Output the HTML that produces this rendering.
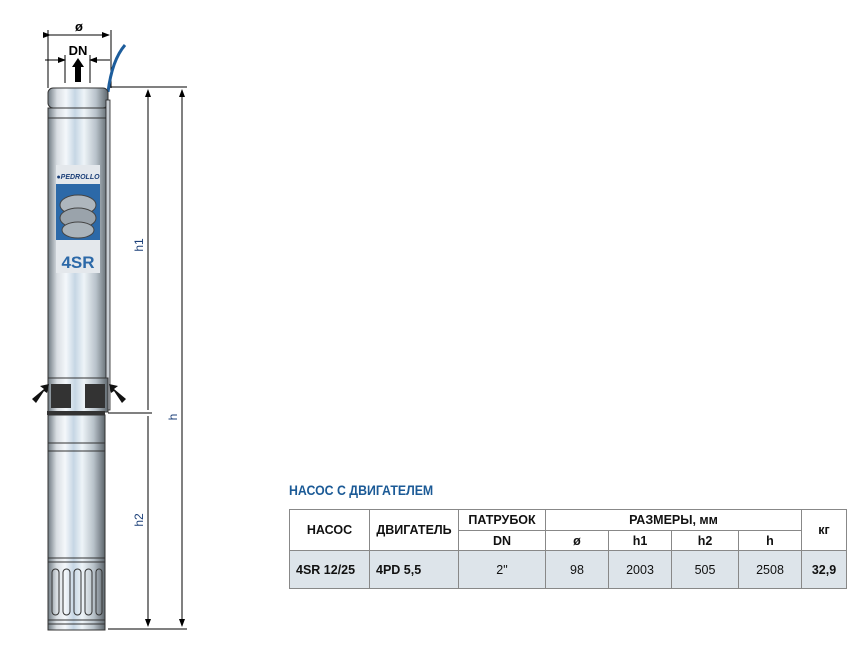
<!DOCTYPE html>
<html><head><meta charset="utf-8"><style>
body{margin:0;background:#fff;width:858px;height:650px;position:relative;overflow:hidden;font-family:"Liberation Sans",sans-serif}
.t{position:absolute;left:289px;top:482px;color:#1b5a96;font-weight:bold;font-size:14px;transform:scaleX(.88);transform-origin:left}
table{position:absolute;left:289px;top:509px;border-collapse:collapse;font-family:"Liberation Sans",sans-serif;font-size:12.5px;font-weight:bold;color:#111}
td{border:1px solid #888;text-align:center;padding:0;white-space:nowrap}
.d td{background:#dde4ea;font-weight:normal}
.d td.b{font-weight:bold}
</style></head><body>
<svg width="858" height="650" style="position:absolute;left:0;top:0" font-family="Liberation Sans">
<defs>
<linearGradient id="m" x1="0" x2="1">
<stop offset="0" stop-color="#6f7a82"/><stop offset=".15" stop-color="#d8dde2"/><stop offset=".3" stop-color="#f4f8fb"/><stop offset=".45" stop-color="#c6d6e4"/><stop offset=".6" stop-color="#eef4f8"/><stop offset=".8" stop-color="#b8c2ca"/><stop offset="1" stop-color="#5d666c"/>
</linearGradient>
<marker id="a" markerWidth="8" markerHeight="8" refX="7" refY="4" orient="auto"><path d="M0,1 L8,4 L0,7 z" fill="#000"/></marker>
</defs>
<g stroke="#000" stroke-width="1" fill="none">
<line x1="48" y1="30" x2="48" y2="88"/><line x1="111" y1="30" x2="111" y2="88"/>
<line x1="50" y1="35" x2="109" y2="35" marker-end="url(#a)" marker-start="url(#a)"/>
<line x1="45" y1="60" x2="65" y2="60" marker-end="url(#a)"/><line x1="110" y1="60" x2="90" y2="60" marker-end="url(#a)"/>
<line x1="65" y1="55" x2="65" y2="83"/><line x1="90" y1="55" x2="90" y2="83"/>
<line x1="108" y1="87" x2="187" y2="87"/>
<line x1="108" y1="413" x2="152" y2="413"/>
<line x1="108" y1="629" x2="187" y2="629"/>
<line x1="148" y1="410" x2="148" y2="90" marker-end="url(#a)"/>
<line x1="148" y1="416" x2="148" y2="626" marker-end="url(#a)"/>
<line x1="182" y1="626" x2="182" y2="90" marker-end="url(#a)"/>
<line x1="182" y1="90" x2="182" y2="626" marker-end="url(#a)"/>
</g>
<text x="79" y="31" font-size="13" font-weight="bold" text-anchor="middle">ø</text>
<text x="78" y="55" font-size="13" font-weight="bold" text-anchor="middle">DN</text>
<path d="M78,58 L72,67 L75,67 L75,82 L81,82 L81,67 L84,67 z" fill="#000"/>
<g font-size="12" fill="#1b3f78">
<text transform="translate(143,245) rotate(-90)" text-anchor="middle">h1</text>
<text transform="translate(143,520) rotate(-90)" text-anchor="middle">h2</text>
<text transform="translate(177,417) rotate(-90)" text-anchor="middle">h</text>
</g>
<path d="M125,45 Q112,60 108,92" stroke="#1d5d9c" stroke-width="3" fill="none"/>
<rect x="48" y="88" width="60" height="20" rx="5" fill="url(#m)" stroke="#333"/>
<rect x="48" y="108" width="60" height="10" fill="url(#m)" stroke="#333"/>
<rect x="48" y="118" width="60" height="262" fill="url(#m)" stroke="#333"/>
<rect x="106" y="100" width="4" height="310" fill="#c8ced4" stroke="#222" stroke-width=".8"/>
<rect x="56" y="165" width="44" height="108" fill="#e4e8ec"/>
<text x="78" y="179" font-size="7" font-style="italic" font-weight="bold" fill="#1b3f78" text-anchor="middle">●PEDROLLO</text>
<rect x="56" y="184" width="44" height="56" fill="#2c69a8"/>
<ellipse cx="78" cy="205" rx="18" ry="10" fill="#aeb6bd" stroke="#444"/>
<ellipse cx="78" cy="218" rx="18" ry="10" fill="#9aa3ab" stroke="#444"/>
<ellipse cx="78" cy="230" rx="16" ry="8" fill="#aab3ba" stroke="#444"/>
<text x="78" y="268" font-size="17" font-weight="bold" fill="#2c69a8" text-anchor="middle">4SR</text>
<rect x="48" y="378" width="60" height="34" fill="url(#m)" stroke="#333"/>
<rect x="51" y="384" width="20" height="24" fill="#333"/>
<rect x="85" y="384" width="20" height="24" fill="#333"/>
<path d="M32,399 L44,389 L40,386 L49,384 L47,393 L44,391 L36,403 z" fill="#111"/>
<path d="M126,399 L114,389 L118,386 L109,384 L111,393 L114,391 L122,403 z" fill="#111"/>
<rect x="47" y="411" width="58" height="4" fill="#333"/>
<rect x="48" y="415" width="57" height="215" fill="url(#m)" stroke="#333"/>
<line x1="48" y1="443" x2="105" y2="443" stroke="#333"/><line x1="48" y1="451" x2="105" y2="451" stroke="#333"/>
<line x1="48" y1="558" x2="105" y2="558" stroke="#333"/><line x1="48" y1="562" x2="105" y2="562" stroke="#333"/>
<g fill="none" stroke="#333">
<rect x="52" y="569" width="7" height="46" rx="3.5"/><rect x="63" y="569" width="7" height="46" rx="3.5"/><rect x="74" y="569" width="7" height="46" rx="3.5"/><rect x="85" y="569" width="7" height="46" rx="3.5"/><rect x="96" y="569" width="6" height="46" rx="3"/>
</g>
<rect x="48" y="620" width="57" height="4" fill="none" stroke="#333"/>
</svg>
<div class="t">НАСОС С ДВИГАТЕЛЕМ</div>
<table>
<tr style="height:21px"><td rowspan="2" style="width:79px">НАСОС</td><td rowspan="2" style="width:88px">ДВИГАТЕЛЬ</td><td style="width:86px">ПАТРУБОК</td><td colspan="4">РАЗМЕРЫ, мм</td><td rowspan="2" style="width:44px">кг</td></tr>
<tr style="height:20px"><td>DN</td><td style="width:62px">ø</td><td style="width:62px">h1</td><td style="width:66px">h2</td><td style="width:62px">h</td></tr>
<tr class="d" style="height:38px"><td class="b" style="text-align:left;padding-left:6px">4SR 12/25</td><td class="b" style="text-align:left;padding-left:6px">4PD 5,5</td><td>2"</td><td>98</td><td>2003</td><td>505</td><td>2508</td><td class="b">32,9</td></tr>
</table>
</body></html>
